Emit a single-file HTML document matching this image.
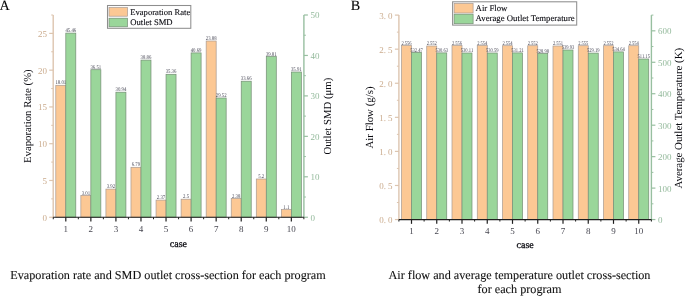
<!DOCTYPE html>
<html><head><meta charset="utf-8"><style>
html,body{margin:0;padding:0;background:#fff;width:685px;height:296px;overflow:hidden}
svg{display:block;font-family:"Liberation Serif", serif;will-change:transform;text-rendering:geometricPrecision}
</style></head><body>
<svg width="685" height="296" viewBox="0 0 685 296">
<rect x="55.80" y="85.30" width="10.00" height="131.95" fill="#FCC894" stroke="#A89A92" stroke-width="0.7"/>
<rect x="65.80" y="33.10" width="10.00" height="184.15" fill="#9AD69A" stroke="#748C74" stroke-width="0.7"/>
<rect x="80.86" y="195.40" width="10.00" height="21.85" fill="#FCC894" stroke="#A89A92" stroke-width="0.7"/>
<rect x="90.86" y="69.70" width="10.00" height="147.55" fill="#9AD69A" stroke="#748C74" stroke-width="0.7"/>
<rect x="105.92" y="189.10" width="10.00" height="28.15" fill="#FCC894" stroke="#A89A92" stroke-width="0.7"/>
<rect x="115.92" y="92.20" width="10.00" height="125.05" fill="#9AD69A" stroke="#748C74" stroke-width="0.7"/>
<rect x="130.98" y="167.30" width="10.00" height="49.95" fill="#FCC894" stroke="#A89A92" stroke-width="0.7"/>
<rect x="140.98" y="60.10" width="10.00" height="157.15" fill="#9AD69A" stroke="#748C74" stroke-width="0.7"/>
<rect x="156.04" y="200.10" width="10.00" height="17.15" fill="#FCC894" stroke="#A89A92" stroke-width="0.7"/>
<rect x="166.04" y="74.30" width="10.00" height="142.95" fill="#9AD69A" stroke="#748C74" stroke-width="0.7"/>
<rect x="181.10" y="199.20" width="10.00" height="18.05" fill="#FCC894" stroke="#A89A92" stroke-width="0.7"/>
<rect x="191.10" y="52.90" width="10.00" height="164.35" fill="#9AD69A" stroke="#748C74" stroke-width="0.7"/>
<rect x="206.16" y="41.00" width="10.00" height="176.25" fill="#FCC894" stroke="#A89A92" stroke-width="0.7"/>
<rect x="216.16" y="98.00" width="10.00" height="119.25" fill="#9AD69A" stroke="#748C74" stroke-width="0.7"/>
<rect x="231.22" y="198.50" width="10.00" height="18.75" fill="#FCC894" stroke="#A89A92" stroke-width="0.7"/>
<rect x="241.22" y="81.20" width="10.00" height="136.05" fill="#9AD69A" stroke="#748C74" stroke-width="0.7"/>
<rect x="256.28" y="179.00" width="10.00" height="38.25" fill="#FCC894" stroke="#A89A92" stroke-width="0.7"/>
<rect x="266.28" y="56.60" width="10.00" height="160.65" fill="#9AD69A" stroke="#748C74" stroke-width="0.7"/>
<rect x="281.34" y="209.60" width="10.00" height="7.65" fill="#FCC894" stroke="#A89A92" stroke-width="0.7"/>
<rect x="291.34" y="72.00" width="10.00" height="145.25" fill="#9AD69A" stroke="#748C74" stroke-width="0.7"/>
<text x="55.40" y="84.40" font-size="5.6" fill="#4A4A58" textLength="10.80" lengthAdjust="spacingAndGlyphs">18.01</text>
<text x="65.40" y="32.20" font-size="5.6" fill="#4A4A58" textLength="10.80" lengthAdjust="spacingAndGlyphs">45.46</text>
<text x="81.66" y="194.50" font-size="5.6" fill="#4A4A58" textLength="8.40" lengthAdjust="spacingAndGlyphs">3.01</text>
<text x="90.46" y="68.80" font-size="5.6" fill="#4A4A58" textLength="10.80" lengthAdjust="spacingAndGlyphs">36.51</text>
<text x="106.72" y="188.20" font-size="5.6" fill="#4A4A58" textLength="8.40" lengthAdjust="spacingAndGlyphs">3.92</text>
<text x="115.52" y="91.30" font-size="5.6" fill="#4A4A58" textLength="10.80" lengthAdjust="spacingAndGlyphs">30.94</text>
<text x="131.78" y="166.40" font-size="5.6" fill="#4A4A58" textLength="8.40" lengthAdjust="spacingAndGlyphs">6.79</text>
<text x="140.58" y="59.20" font-size="5.6" fill="#4A4A58" textLength="10.80" lengthAdjust="spacingAndGlyphs">38.86</text>
<text x="156.84" y="199.20" font-size="5.6" fill="#4A4A58" textLength="8.40" lengthAdjust="spacingAndGlyphs">2.37</text>
<text x="165.64" y="73.40" font-size="5.6" fill="#4A4A58" textLength="10.80" lengthAdjust="spacingAndGlyphs">35.36</text>
<text x="183.10" y="198.30" font-size="5.6" fill="#4A4A58" textLength="6.00" lengthAdjust="spacingAndGlyphs">2.5</text>
<text x="190.70" y="52.00" font-size="5.6" fill="#4A4A58" textLength="10.80" lengthAdjust="spacingAndGlyphs">40.69</text>
<text x="205.76" y="40.10" font-size="5.6" fill="#4A4A58" textLength="10.80" lengthAdjust="spacingAndGlyphs">23.88</text>
<text x="215.76" y="97.10" font-size="5.6" fill="#4A4A58" textLength="10.80" lengthAdjust="spacingAndGlyphs">29.52</text>
<text x="232.02" y="197.60" font-size="5.6" fill="#4A4A58" textLength="8.40" lengthAdjust="spacingAndGlyphs">2.38</text>
<text x="240.82" y="80.30" font-size="5.6" fill="#4A4A58" textLength="10.80" lengthAdjust="spacingAndGlyphs">33.66</text>
<text x="258.28" y="178.10" font-size="5.6" fill="#4A4A58" textLength="6.00" lengthAdjust="spacingAndGlyphs">5.2</text>
<text x="265.88" y="55.70" font-size="5.6" fill="#4A4A58" textLength="10.80" lengthAdjust="spacingAndGlyphs">39.81</text>
<text x="283.34" y="208.70" font-size="5.6" fill="#4A4A58" textLength="6.00" lengthAdjust="spacingAndGlyphs">1.1</text>
<text x="290.94" y="71.10" font-size="5.6" fill="#4A4A58" textLength="10.80" lengthAdjust="spacingAndGlyphs">35.91</text>
<line x1="53.20" y1="217.25" x2="53.20" y2="15.00" stroke="#DDC5AF" stroke-width="1.4"/>
<line x1="49.20" y1="217.25" x2="53.20" y2="217.25" stroke="#DDC5AF" stroke-width="1.2"/>
<text x="46.90" y="220.65" font-size="9" fill="#CBAC8E" text-anchor="end" >0</text>
<line x1="49.20" y1="180.48" x2="53.20" y2="180.48" stroke="#DDC5AF" stroke-width="1.2"/>
<text x="46.90" y="183.88" font-size="9" fill="#CBAC8E" text-anchor="end" >5</text>
<line x1="49.20" y1="143.70" x2="53.20" y2="143.70" stroke="#DDC5AF" stroke-width="1.2"/>
<text x="46.90" y="147.10" font-size="9" fill="#CBAC8E" text-anchor="end" >10</text>
<line x1="49.20" y1="106.93" x2="53.20" y2="106.93" stroke="#DDC5AF" stroke-width="1.2"/>
<text x="46.90" y="110.33" font-size="9" fill="#CBAC8E" text-anchor="end" >15</text>
<line x1="49.20" y1="70.16" x2="53.20" y2="70.16" stroke="#DDC5AF" stroke-width="1.2"/>
<text x="46.90" y="73.56" font-size="9" fill="#CBAC8E" text-anchor="end" >20</text>
<line x1="49.20" y1="33.39" x2="53.20" y2="33.39" stroke="#DDC5AF" stroke-width="1.2"/>
<text x="46.90" y="36.79" font-size="9" fill="#CBAC8E" text-anchor="end" >25</text>
<line x1="51.20" y1="198.86" x2="53.20" y2="198.86" stroke="#DDC5AF" stroke-width="1"/>
<line x1="51.20" y1="162.09" x2="53.20" y2="162.09" stroke="#DDC5AF" stroke-width="1"/>
<line x1="51.20" y1="125.32" x2="53.20" y2="125.32" stroke="#DDC5AF" stroke-width="1"/>
<line x1="51.20" y1="88.55" x2="53.20" y2="88.55" stroke="#DDC5AF" stroke-width="1"/>
<line x1="51.20" y1="51.77" x2="53.20" y2="51.77" stroke="#DDC5AF" stroke-width="1"/>
<line x1="51.20" y1="15.00" x2="53.20" y2="15.00" stroke="#DDC5AF" stroke-width="1"/>
<line x1="303.90" y1="217.25" x2="303.90" y2="15.00" stroke="#98BFA0" stroke-width="1.4"/>
<line x1="303.90" y1="217.25" x2="307.90" y2="217.25" stroke="#98BFA0" stroke-width="1.2"/>
<text x="310.50" y="220.65" font-size="9" fill="#94BA9C" text-anchor="start" >0</text>
<line x1="303.90" y1="176.80" x2="307.90" y2="176.80" stroke="#98BFA0" stroke-width="1.2"/>
<text x="310.50" y="180.20" font-size="9" fill="#94BA9C" text-anchor="start" >10</text>
<line x1="303.90" y1="136.35" x2="307.90" y2="136.35" stroke="#98BFA0" stroke-width="1.2"/>
<text x="310.50" y="139.75" font-size="9" fill="#94BA9C" text-anchor="start" >20</text>
<line x1="303.90" y1="95.90" x2="307.90" y2="95.90" stroke="#98BFA0" stroke-width="1.2"/>
<text x="310.50" y="99.30" font-size="9" fill="#94BA9C" text-anchor="start" >30</text>
<line x1="303.90" y1="55.45" x2="307.90" y2="55.45" stroke="#98BFA0" stroke-width="1.2"/>
<text x="310.50" y="58.85" font-size="9" fill="#94BA9C" text-anchor="start" >40</text>
<line x1="303.90" y1="15.00" x2="307.90" y2="15.00" stroke="#98BFA0" stroke-width="1.2"/>
<text x="310.50" y="18.40" font-size="9" fill="#94BA9C" text-anchor="start" >50</text>
<line x1="303.90" y1="197.03" x2="305.90" y2="197.03" stroke="#98BFA0" stroke-width="1"/>
<line x1="303.90" y1="156.57" x2="305.90" y2="156.57" stroke="#98BFA0" stroke-width="1"/>
<line x1="303.90" y1="116.12" x2="305.90" y2="116.12" stroke="#98BFA0" stroke-width="1"/>
<line x1="303.90" y1="75.68" x2="305.90" y2="75.68" stroke="#98BFA0" stroke-width="1"/>
<line x1="303.90" y1="35.22" x2="305.90" y2="35.22" stroke="#98BFA0" stroke-width="1"/>
<line x1="53.20" y1="217.25" x2="303.90" y2="217.25" stroke="#1E1E1E" stroke-width="1.2"/>
<line x1="65.80" y1="217.25" x2="65.80" y2="221.55" stroke="#1E1E1E" stroke-width="1.2"/>
<text x="65.80" y="232.25" font-size="9" fill="#484852" text-anchor="middle" >1</text>
<line x1="90.86" y1="217.25" x2="90.86" y2="221.55" stroke="#1E1E1E" stroke-width="1.2"/>
<text x="90.86" y="232.25" font-size="9" fill="#484852" text-anchor="middle" >2</text>
<line x1="115.92" y1="217.25" x2="115.92" y2="221.55" stroke="#1E1E1E" stroke-width="1.2"/>
<text x="115.92" y="232.25" font-size="9" fill="#484852" text-anchor="middle" >3</text>
<line x1="140.98" y1="217.25" x2="140.98" y2="221.55" stroke="#1E1E1E" stroke-width="1.2"/>
<text x="140.98" y="232.25" font-size="9" fill="#484852" text-anchor="middle" >4</text>
<line x1="166.04" y1="217.25" x2="166.04" y2="221.55" stroke="#1E1E1E" stroke-width="1.2"/>
<text x="166.04" y="232.25" font-size="9" fill="#484852" text-anchor="middle" >5</text>
<line x1="191.10" y1="217.25" x2="191.10" y2="221.55" stroke="#1E1E1E" stroke-width="1.2"/>
<text x="191.10" y="232.25" font-size="9" fill="#484852" text-anchor="middle" >6</text>
<line x1="216.16" y1="217.25" x2="216.16" y2="221.55" stroke="#1E1E1E" stroke-width="1.2"/>
<text x="216.16" y="232.25" font-size="9" fill="#484852" text-anchor="middle" >7</text>
<line x1="241.22" y1="217.25" x2="241.22" y2="221.55" stroke="#1E1E1E" stroke-width="1.2"/>
<text x="241.22" y="232.25" font-size="9" fill="#484852" text-anchor="middle" >8</text>
<line x1="266.28" y1="217.25" x2="266.28" y2="221.55" stroke="#1E1E1E" stroke-width="1.2"/>
<text x="266.28" y="232.25" font-size="9" fill="#484852" text-anchor="middle" >9</text>
<line x1="291.34" y1="217.25" x2="291.34" y2="221.55" stroke="#1E1E1E" stroke-width="1.2"/>
<text x="291.34" y="232.25" font-size="9" fill="#484852" text-anchor="middle" >10</text>
<line x1="53.27" y1="217.25" x2="53.27" y2="219.25" stroke="#1E1E1E" stroke-width="1"/>
<line x1="78.33" y1="217.25" x2="78.33" y2="219.25" stroke="#1E1E1E" stroke-width="1"/>
<line x1="103.39" y1="217.25" x2="103.39" y2="219.25" stroke="#1E1E1E" stroke-width="1"/>
<line x1="128.45" y1="217.25" x2="128.45" y2="219.25" stroke="#1E1E1E" stroke-width="1"/>
<line x1="153.51" y1="217.25" x2="153.51" y2="219.25" stroke="#1E1E1E" stroke-width="1"/>
<line x1="178.57" y1="217.25" x2="178.57" y2="219.25" stroke="#1E1E1E" stroke-width="1"/>
<line x1="203.63" y1="217.25" x2="203.63" y2="219.25" stroke="#1E1E1E" stroke-width="1"/>
<line x1="228.69" y1="217.25" x2="228.69" y2="219.25" stroke="#1E1E1E" stroke-width="1"/>
<line x1="253.75" y1="217.25" x2="253.75" y2="219.25" stroke="#1E1E1E" stroke-width="1"/>
<line x1="278.81" y1="217.25" x2="278.81" y2="219.25" stroke="#1E1E1E" stroke-width="1"/>
<line x1="303.87" y1="217.25" x2="303.87" y2="219.25" stroke="#1E1E1E" stroke-width="1"/>
<text x="178.40" y="247.00" font-size="10" fill="#0A0A10" text-anchor="middle" stroke="#0A0A10" stroke-width="0.3">case</text>
<text x="0" y="0" font-size="10.75" fill="#0A0A10" text-anchor="middle" transform="translate(31.3,116.2) rotate(-90)">Evaporation Rate (%)</text>
<text x="0" y="0" fill="#0A0A10" text-anchor="middle" transform="translate(330.8,116.2) rotate(-90)" font-size="10.75">Outlet SMD (μm)</text>
<rect x="107.5" y="5.5" width="83.3" height="22.8" fill="#fff" stroke="#8E8E8E" stroke-width="1.05"/>
<rect x="109" y="7.6" width="18.5" height="8.6" fill="#FCC894" stroke="#A89A92" stroke-width="0.7"/>
<text x="130.20" y="14.80" font-size="8.65" fill="#0A0A10" text-anchor="start"  stroke="#0A0A10" stroke-width="0.1">Evaporation Rate</text>
<rect x="109" y="18.2" width="18.5" height="8.6" fill="#9AD69A" stroke="#748C74" stroke-width="0.7"/>
<text x="130.20" y="25.30" font-size="8.65" fill="#0A0A10" text-anchor="start"  stroke="#0A0A10" stroke-width="0.1">Outlet SMD</text>
<rect x="401.50" y="45.60" width="10.00" height="173.95" fill="#FCC894" stroke="#A89A92" stroke-width="0.7"/>
<rect x="411.50" y="52.40" width="10.00" height="167.15" fill="#9AD69A" stroke="#748C74" stroke-width="0.7"/>
<rect x="426.75" y="46.00" width="10.00" height="173.55" fill="#FCC894" stroke="#A89A92" stroke-width="0.7"/>
<rect x="436.75" y="52.90" width="10.00" height="166.65" fill="#9AD69A" stroke="#748C74" stroke-width="0.7"/>
<rect x="452.00" y="45.60" width="10.00" height="173.95" fill="#FCC894" stroke="#A89A92" stroke-width="0.7"/>
<rect x="462.00" y="53.00" width="10.00" height="166.55" fill="#9AD69A" stroke="#748C74" stroke-width="0.7"/>
<rect x="477.25" y="45.60" width="10.00" height="173.95" fill="#FCC894" stroke="#A89A92" stroke-width="0.7"/>
<rect x="487.25" y="53.00" width="10.00" height="166.55" fill="#9AD69A" stroke="#748C74" stroke-width="0.7"/>
<rect x="502.50" y="45.70" width="10.00" height="173.85" fill="#FCC894" stroke="#A89A92" stroke-width="0.7"/>
<rect x="512.50" y="52.90" width="10.00" height="166.65" fill="#9AD69A" stroke="#748C74" stroke-width="0.7"/>
<rect x="527.75" y="45.70" width="10.00" height="173.85" fill="#FCC894" stroke="#A89A92" stroke-width="0.7"/>
<rect x="537.75" y="53.50" width="10.00" height="166.05" fill="#9AD69A" stroke="#748C74" stroke-width="0.7"/>
<rect x="553.00" y="46.00" width="10.00" height="173.55" fill="#FCC894" stroke="#A89A92" stroke-width="0.7"/>
<rect x="563.00" y="50.00" width="10.00" height="169.55" fill="#9AD69A" stroke="#748C74" stroke-width="0.7"/>
<rect x="578.25" y="45.70" width="10.00" height="173.85" fill="#FCC894" stroke="#A89A92" stroke-width="0.7"/>
<rect x="588.25" y="53.10" width="10.00" height="166.45" fill="#9AD69A" stroke="#748C74" stroke-width="0.7"/>
<rect x="603.50" y="45.70" width="10.00" height="173.85" fill="#FCC894" stroke="#A89A92" stroke-width="0.7"/>
<rect x="613.50" y="51.90" width="10.00" height="167.65" fill="#9AD69A" stroke="#748C74" stroke-width="0.7"/>
<rect x="628.75" y="45.70" width="10.00" height="173.85" fill="#FCC894" stroke="#A89A92" stroke-width="0.7"/>
<rect x="638.75" y="59.00" width="10.00" height="160.55" fill="#9AD69A" stroke="#748C74" stroke-width="0.7"/>
<text x="401.38" y="44.70" font-size="5.6" fill="#4A4A58" textLength="10.24" lengthAdjust="spacingAndGlyphs">2.556</text>
<text x="410.24" y="51.50" font-size="5.6" fill="#4A4A58" textLength="12.51" lengthAdjust="spacingAndGlyphs">532.47</text>
<text x="426.63" y="45.10" font-size="5.6" fill="#4A4A58" textLength="10.24" lengthAdjust="spacingAndGlyphs">2.552</text>
<text x="435.49" y="52.00" font-size="5.6" fill="#4A4A58" textLength="12.51" lengthAdjust="spacingAndGlyphs">530.63</text>
<text x="451.88" y="44.70" font-size="5.6" fill="#4A4A58" textLength="10.24" lengthAdjust="spacingAndGlyphs">2.556</text>
<text x="460.83" y="52.10" font-size="5.6" fill="#4A4A58" textLength="12.34" lengthAdjust="spacingAndGlyphs">530.11</text>
<text x="477.13" y="44.70" font-size="5.6" fill="#4A4A58" textLength="10.24" lengthAdjust="spacingAndGlyphs">2.554</text>
<text x="485.99" y="52.10" font-size="5.6" fill="#4A4A58" textLength="12.51" lengthAdjust="spacingAndGlyphs">530.59</text>
<text x="502.38" y="44.80" font-size="5.6" fill="#4A4A58" textLength="10.24" lengthAdjust="spacingAndGlyphs">2.554</text>
<text x="511.24" y="52.00" font-size="5.6" fill="#4A4A58" textLength="12.51" lengthAdjust="spacingAndGlyphs">531.21</text>
<text x="527.63" y="44.80" font-size="5.6" fill="#4A4A58" textLength="10.24" lengthAdjust="spacingAndGlyphs">2.552</text>
<text x="536.49" y="52.60" font-size="5.6" fill="#4A4A58" textLength="12.51" lengthAdjust="spacingAndGlyphs">528.98</text>
<text x="552.88" y="45.10" font-size="5.6" fill="#4A4A58" textLength="10.24" lengthAdjust="spacingAndGlyphs">2.551</text>
<text x="561.74" y="49.10" font-size="5.6" fill="#4A4A58" textLength="12.51" lengthAdjust="spacingAndGlyphs">539.93</text>
<text x="578.13" y="44.80" font-size="5.6" fill="#4A4A58" textLength="10.24" lengthAdjust="spacingAndGlyphs">2.555</text>
<text x="586.99" y="52.20" font-size="5.6" fill="#4A4A58" textLength="12.51" lengthAdjust="spacingAndGlyphs">529.19</text>
<text x="603.38" y="44.80" font-size="5.6" fill="#4A4A58" textLength="10.24" lengthAdjust="spacingAndGlyphs">2.552</text>
<text x="612.24" y="51.00" font-size="5.6" fill="#4A4A58" textLength="12.51" lengthAdjust="spacingAndGlyphs">534.64</text>
<text x="628.63" y="44.80" font-size="5.6" fill="#4A4A58" textLength="10.24" lengthAdjust="spacingAndGlyphs">2.554</text>
<text x="637.58" y="58.10" font-size="5.6" fill="#4A4A58" textLength="12.34" lengthAdjust="spacingAndGlyphs">511.15</text>
<line x1="398.90" y1="219.55" x2="398.90" y2="15.10" stroke="#DDC5AF" stroke-width="1.4"/>
<line x1="394.90" y1="219.55" x2="398.90" y2="219.55" stroke="#DDC5AF" stroke-width="1.2"/>
<text x="392.60" y="222.95" font-size="9" fill="#CBAC8E" text-anchor="end" >0.<tspan dx="2.1">0</tspan></text>
<line x1="394.90" y1="185.48" x2="398.90" y2="185.48" stroke="#DDC5AF" stroke-width="1.2"/>
<text x="392.60" y="188.88" font-size="9" fill="#CBAC8E" text-anchor="end" >0.<tspan dx="2.1">5</tspan></text>
<line x1="394.90" y1="151.40" x2="398.90" y2="151.40" stroke="#DDC5AF" stroke-width="1.2"/>
<text x="392.60" y="154.80" font-size="9" fill="#CBAC8E" text-anchor="end" >1.<tspan dx="2.1">0</tspan></text>
<line x1="394.90" y1="117.33" x2="398.90" y2="117.33" stroke="#DDC5AF" stroke-width="1.2"/>
<text x="392.60" y="120.73" font-size="9" fill="#CBAC8E" text-anchor="end" >1.<tspan dx="2.1">5</tspan></text>
<line x1="394.90" y1="83.25" x2="398.90" y2="83.25" stroke="#DDC5AF" stroke-width="1.2"/>
<text x="392.60" y="86.65" font-size="9" fill="#CBAC8E" text-anchor="end" >2.<tspan dx="2.1">0</tspan></text>
<line x1="394.90" y1="49.17" x2="398.90" y2="49.17" stroke="#DDC5AF" stroke-width="1.2"/>
<text x="392.60" y="52.57" font-size="9" fill="#CBAC8E" text-anchor="end" >2.<tspan dx="2.1">5</tspan></text>
<line x1="394.90" y1="15.10" x2="398.90" y2="15.10" stroke="#DDC5AF" stroke-width="1.2"/>
<text x="392.60" y="18.50" font-size="9" fill="#CBAC8E" text-anchor="end" >3.<tspan dx="2.1">0</tspan></text>
<line x1="396.90" y1="202.51" x2="398.90" y2="202.51" stroke="#DDC5AF" stroke-width="1"/>
<line x1="396.90" y1="168.44" x2="398.90" y2="168.44" stroke="#DDC5AF" stroke-width="1"/>
<line x1="396.90" y1="134.36" x2="398.90" y2="134.36" stroke="#DDC5AF" stroke-width="1"/>
<line x1="396.90" y1="100.29" x2="398.90" y2="100.29" stroke="#DDC5AF" stroke-width="1"/>
<line x1="396.90" y1="66.21" x2="398.90" y2="66.21" stroke="#DDC5AF" stroke-width="1"/>
<line x1="396.90" y1="32.14" x2="398.90" y2="32.14" stroke="#DDC5AF" stroke-width="1"/>
<line x1="651.40" y1="219.55" x2="651.40" y2="15.10" stroke="#98BFA0" stroke-width="1.4"/>
<line x1="651.40" y1="219.55" x2="655.40" y2="219.55" stroke="#98BFA0" stroke-width="1.2"/>
<text x="658.00" y="222.95" font-size="9" fill="#94BA9C" text-anchor="start" >0</text>
<line x1="651.40" y1="188.10" x2="655.40" y2="188.10" stroke="#98BFA0" stroke-width="1.2"/>
<text x="658.00" y="191.50" font-size="9" fill="#94BA9C" text-anchor="start" >100</text>
<line x1="651.40" y1="156.64" x2="655.40" y2="156.64" stroke="#98BFA0" stroke-width="1.2"/>
<text x="658.00" y="160.04" font-size="9" fill="#94BA9C" text-anchor="start" >200</text>
<line x1="651.40" y1="125.19" x2="655.40" y2="125.19" stroke="#98BFA0" stroke-width="1.2"/>
<text x="658.00" y="128.59" font-size="9" fill="#94BA9C" text-anchor="start" >300</text>
<line x1="651.40" y1="93.73" x2="655.40" y2="93.73" stroke="#98BFA0" stroke-width="1.2"/>
<text x="658.00" y="97.13" font-size="9" fill="#94BA9C" text-anchor="start" >400</text>
<line x1="651.40" y1="62.28" x2="655.40" y2="62.28" stroke="#98BFA0" stroke-width="1.2"/>
<text x="658.00" y="65.68" font-size="9" fill="#94BA9C" text-anchor="start" >500</text>
<line x1="651.40" y1="30.83" x2="655.40" y2="30.83" stroke="#98BFA0" stroke-width="1.2"/>
<text x="658.00" y="34.23" font-size="9" fill="#94BA9C" text-anchor="start" >600</text>
<line x1="651.40" y1="203.82" x2="653.40" y2="203.82" stroke="#98BFA0" stroke-width="1"/>
<line x1="651.40" y1="172.37" x2="653.40" y2="172.37" stroke="#98BFA0" stroke-width="1"/>
<line x1="651.40" y1="140.92" x2="653.40" y2="140.92" stroke="#98BFA0" stroke-width="1"/>
<line x1="651.40" y1="109.46" x2="653.40" y2="109.46" stroke="#98BFA0" stroke-width="1"/>
<line x1="651.40" y1="78.01" x2="653.40" y2="78.01" stroke="#98BFA0" stroke-width="1"/>
<line x1="651.40" y1="46.55" x2="653.40" y2="46.55" stroke="#98BFA0" stroke-width="1"/>
<line x1="651.40" y1="15.10" x2="653.40" y2="15.10" stroke="#98BFA0" stroke-width="1"/>
<line x1="398.90" y1="219.55" x2="651.40" y2="219.55" stroke="#1E1E1E" stroke-width="1.2"/>
<line x1="411.50" y1="219.55" x2="411.50" y2="223.85" stroke="#1E1E1E" stroke-width="1.2"/>
<text x="411.50" y="234.05" font-size="9" fill="#484852" text-anchor="middle" >1</text>
<line x1="436.75" y1="219.55" x2="436.75" y2="223.85" stroke="#1E1E1E" stroke-width="1.2"/>
<text x="436.75" y="234.05" font-size="9" fill="#484852" text-anchor="middle" >2</text>
<line x1="462.00" y1="219.55" x2="462.00" y2="223.85" stroke="#1E1E1E" stroke-width="1.2"/>
<text x="462.00" y="234.05" font-size="9" fill="#484852" text-anchor="middle" >3</text>
<line x1="487.25" y1="219.55" x2="487.25" y2="223.85" stroke="#1E1E1E" stroke-width="1.2"/>
<text x="487.25" y="234.05" font-size="9" fill="#484852" text-anchor="middle" >4</text>
<line x1="512.50" y1="219.55" x2="512.50" y2="223.85" stroke="#1E1E1E" stroke-width="1.2"/>
<text x="512.50" y="234.05" font-size="9" fill="#484852" text-anchor="middle" >5</text>
<line x1="537.75" y1="219.55" x2="537.75" y2="223.85" stroke="#1E1E1E" stroke-width="1.2"/>
<text x="537.75" y="234.05" font-size="9" fill="#484852" text-anchor="middle" >6</text>
<line x1="563.00" y1="219.55" x2="563.00" y2="223.85" stroke="#1E1E1E" stroke-width="1.2"/>
<text x="563.00" y="234.05" font-size="9" fill="#484852" text-anchor="middle" >7</text>
<line x1="588.25" y1="219.55" x2="588.25" y2="223.85" stroke="#1E1E1E" stroke-width="1.2"/>
<text x="588.25" y="234.05" font-size="9" fill="#484852" text-anchor="middle" >8</text>
<line x1="613.50" y1="219.55" x2="613.50" y2="223.85" stroke="#1E1E1E" stroke-width="1.2"/>
<text x="613.50" y="234.05" font-size="9" fill="#484852" text-anchor="middle" >9</text>
<line x1="638.75" y1="219.55" x2="638.75" y2="223.85" stroke="#1E1E1E" stroke-width="1.2"/>
<text x="638.75" y="234.05" font-size="9" fill="#484852" text-anchor="middle" >10</text>
<line x1="398.88" y1="219.55" x2="398.88" y2="221.55" stroke="#1E1E1E" stroke-width="1"/>
<line x1="424.12" y1="219.55" x2="424.12" y2="221.55" stroke="#1E1E1E" stroke-width="1"/>
<line x1="449.38" y1="219.55" x2="449.38" y2="221.55" stroke="#1E1E1E" stroke-width="1"/>
<line x1="474.62" y1="219.55" x2="474.62" y2="221.55" stroke="#1E1E1E" stroke-width="1"/>
<line x1="499.88" y1="219.55" x2="499.88" y2="221.55" stroke="#1E1E1E" stroke-width="1"/>
<line x1="525.12" y1="219.55" x2="525.12" y2="221.55" stroke="#1E1E1E" stroke-width="1"/>
<line x1="550.38" y1="219.55" x2="550.38" y2="221.55" stroke="#1E1E1E" stroke-width="1"/>
<line x1="575.62" y1="219.55" x2="575.62" y2="221.55" stroke="#1E1E1E" stroke-width="1"/>
<line x1="600.88" y1="219.55" x2="600.88" y2="221.55" stroke="#1E1E1E" stroke-width="1"/>
<line x1="626.12" y1="219.55" x2="626.12" y2="221.55" stroke="#1E1E1E" stroke-width="1"/>
<line x1="651.38" y1="219.55" x2="651.38" y2="221.55" stroke="#1E1E1E" stroke-width="1"/>
<text x="525.20" y="248.20" font-size="10" fill="#0A0A10" text-anchor="middle" stroke="#0A0A10" stroke-width="0.3">case</text>
<text x="0" y="0" font-size="10.85" fill="#0A0A10" text-anchor="middle" transform="translate(373.2,117.5) rotate(-90)">Air Flow (g/s)</text>
<text x="0" y="0" fill="#0A0A10" text-anchor="middle" transform="translate(682.2,118.2) rotate(-90)" font-size="10.85">Average Outlet Temperature (K)</text>
<rect x="452.6" y="1.8" width="124.1" height="23.3" fill="#fff" stroke="#8E8E8E" stroke-width="1.05"/>
<rect x="454.1" y="3.5" width="19" height="9.5" fill="#FCC894" stroke="#A89A92" stroke-width="0.7"/>
<text x="475.60" y="10.60" font-size="8.75" fill="#0A0A10" text-anchor="start"  stroke="#0A0A10" stroke-width="0.1">Air Flow</text>
<rect x="454.1" y="14.2" width="19" height="9.5" fill="#9AD69A" stroke="#748C74" stroke-width="0.7"/>
<text x="475.60" y="21.30" font-size="8.75" fill="#0A0A10" text-anchor="start"  stroke="#0A0A10" stroke-width="0.1">Average Outlet Temperature</text>
<text x="-0.40" y="10.20" font-size="14.2" fill="#000" text-anchor="start"  stroke="#000" stroke-width="0.1">A</text>
<text x="350.80" y="10.20" font-size="14.2" fill="#000" text-anchor="start"  stroke="#000" stroke-width="0.1">B</text>
<text x="168.00" y="279.00" font-size="12.2" fill="#111" text-anchor="middle"  stroke="#111" stroke-width="0.1">Evaporation rate and SMD outlet cross-section for each program</text>
<text x="519.50" y="279.00" font-size="12.2" fill="#111" text-anchor="middle"  stroke="#111" stroke-width="0.1">Air flow and average temperature outlet cross-section</text>
<text x="519.50" y="292.90" font-size="12.2" fill="#111" text-anchor="middle"  stroke="#111" stroke-width="0.1">for each program</text>
</svg>
</body></html>
